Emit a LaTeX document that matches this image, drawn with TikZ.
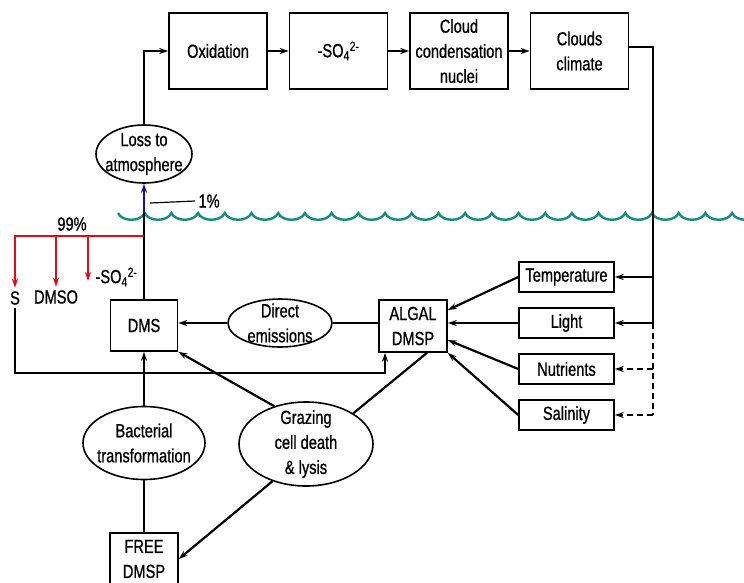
\documentclass[tikz,border=0pt]{standalone}
\usepackage{fontspec}
\setmainfont[FakeStretch=0.77, FakeBold=0.8]{Liberation Sans}
\usetikzlibrary{positioning, shapes.geometric, arrows.meta}
\definecolor{seagreen}{RGB}{22,140,128}
\definecolor{navyblue}{RGB}{20,20,140}
\definecolor{redline}{RGB}{230,10,20}
\tikzset{>={Stealth[length=9pt,width=6pt]}, % narrow filled arrow heads
node distance=120.5pt, % centre to centre of the boxes at the top
every node/.style={font=\fontsize{19pt}{25pt}\selectfont, align=center},
box/.style={draw, line width=1.6pt, rectangle, minimum width=98pt, minimum height=76pt, inner sep=2pt},
rect/.style={draw, line width=1.6pt, rectangle, minimum width=68pt, minimum height=52pt, inner sep=2pt},
factor/.style={draw, line width=1.6pt, rectangle, minimum width=95pt, minimum height=30pt, inner sep=2pt},
blob/.style={draw, ellipse, line width=1.6pt, inner sep=-8pt}, % the oval boxes
flow/.style={line width=2.2pt},
}
\begin{document}
\begin{tikzpicture}[x=1pt, y=1pt]
\useasboundingbox (0,0) rectangle (744,-582);

% sea surface
\coordinate (sea) at (118,-213);
\draw[seagreen, line width=2.4pt] (sea)
  \foreach \i in {0,...,23} { .. controls +(4,-9) and +(-4,-9) .. ++(26.7,0) };

% atmosphere
\node[box] (ox) at (218,-51) {Oxidation};
\node[box, right of=ox] (sulf) {-SO\textsubscript{4}\textsuperscript{2-}};
\node[box, right of=sulf] (ccn) {Cloud\\condensation\\nuclei};
\node[box, right of=ccn] (clim) {Clouds\\climate};
\node[blob, minimum width=96pt, minimum height=58pt] (loss) at (144,-154) {Loss to\\atmosphere};

% ocean
\node[rect, minimum width=67pt, minimum height=51pt] (dms) at (144,-325.5) {DMS};
\node[blob, minimum width=104pt, minimum height=48pt] (direct) at (280,-323) {Direct\\emissions};
\node[rect] (algal) at (413,-326) {ALGAL\\DMSP};
\node[blob, minimum width=122pt, minimum height=73pt] (bact) at (144,-443) {Bacterial\\transformation};
\node[blob, minimum width=134pt, minimum height=84pt] (graz) at (306,-444) {Grazing\\cell death\\\& lysis};
\node[rect] (free) at (144,-559) {FREE\\DMSP};

\node[factor] (temp) at (566.5,-277) {Temperature};
\node[factor, below of=temp, node distance=46pt] (light) {Light};
\node[factor, below of=light, node distance=46pt] (nutr) {Nutrients};
\node[factor, below of=nutr, node distance=46pt] (salin) {Salinity};

\node (s) at (15,-298) {S};
\node (dmso) at (56,-297) {DMSO};
\node[anchor=west] (so4) at (92,-277) {-SO\textsubscript{4}\textsuperscript{2-}};
\node (pct99) at (72,-224) {99\%};
\node[anchor=west] (pct1) at (195,-201) {1\%};

\coordinate (surface) at (144,-213);
\coordinate (split) at (144,-236);
\coordinate (so4tip) at (88,-281);
\coordinate (lead) at (150,-203);
\coordinate (bus) at (653,0);
\coordinate (sbend) at (385,-373);

% up through the surface
\draw[flow] (dms) -- (surface);
\draw[flow, navyblue, ->] (surface) -- (loss);
\draw[line width=1.2pt] (lead) -- (pct1.west);
\draw[flow, ->] (loss) |- (ox);
\draw[flow, ->] (ox) -- (sulf);
\draw[flow, ->] (sulf) -- (ccn);
\draw[flow, ->] (ccn) -- (clim);

% feedback to the factors
\draw[flow] ([yshift=4pt]clim.east) -| (bus |- light);
\draw[flow, ->] (bus |- temp) -- (temp);
\draw[flow, ->] (bus |- light) -- (light);
\draw[flow, dash pattern=on 6pt off 4pt] (bus |- light) -- (bus |- salin);
\draw[flow, dash pattern=on 6pt off 4pt, ->] (bus |- nutr) -- (nutr);
\draw[flow, dash pattern=on 6pt off 4pt, ->] (bus |- salin) -- (salin);

\draw[flow, ->] (temp.west) -- ([yshift=16pt]algal.east);
\draw[flow, ->] (light.west) -- (light.west -| algal.east);
\draw[flow, ->] (nutr.west) -- ([yshift=-14pt]algal.east);
\draw[flow, ->] (salin.west) -- (algal.south east);

% 99% stays in the water
\draw[flow, redline, ->] (split) -| (s);
\draw[flow, redline, ->] (dmso.north |- split) -- (dmso);
\draw[flow, redline, ->] (so4tip |- split) -- (so4tip);
\draw[line width=1.4pt, ->] (s.south) |- (sbend) -- (sbend |- algal.south);

% DMSP to DMS
\draw[flow] (algal.west |- direct) -- (direct);
\draw[flow, ->] (direct) -- (dms.east |- direct);
\draw[flow] (free) -- (bact);
\draw[flow, ->] (bact) -- (dms);
\draw[flow] ([xshift=14pt]algal.south) -- (graz.33);
\draw[flow, ->] (graz.130) -- (dms.south east);
\draw[flow, ->] (graz.228) -- (free.east);

\end{tikzpicture}
\end{document}
